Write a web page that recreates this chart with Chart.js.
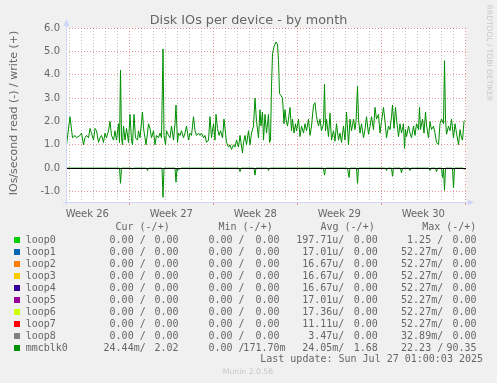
<!DOCTYPE html>
<html><head><meta charset="utf-8">
<script src="https://cdn.jsdelivr.net/npm/chart.js@4/dist/chart.umd.min.js"></script>
<style>html,body{margin:0;padding:0;background:#f0f0f0;overflow:hidden}canvas{display:block}</style>
</head><body>
<canvas id="c" width="497" height="383"></canvas>
<script>
// ---- data (x = hours since start of the 33-day window) ----
const writeHours = [
1,8,13,18,21,28,31,35,38,41, 45,48,51,55,58,61,65,68,71,75,
78,81,85,88,91,95,98,101,105,107, 109,111,113,115,118,121,125,128,131,133,
136,139,143,145,148,153,155,158,160,163, 165,168,171,175,178,181,185,188,191,194,
196,199,201,205,208,211,215,218,220,223, 225,228,231,235,238,241,245,248,251,255,
258,261,265,268,271,275,278,281,285,288, 291,295,298,300,303,306,309,313,316,319,
321,325,328,331,335,338,341,345,348,353, 355,358,361,365,368,371,375,378,381,385,
388,390,393,395,398,401,405,407,409,411, 413,416,420,423,425,427,430,433,436,438,
440,443,445,448,451,453,456,459,461,465, 468,471,475,478,481,485,488,491,495,498,
501,505,508,511,515,517,519,521,525,528, 531,535,538,541,545,548,551,555,558,561,
565,568,571,575,578,580,583,585,588,591, 595,598,601,605,608,611,615,618,621,625,
628,631,635,638,641,645,648,651,653,656, 659,661,665,668,671,675,677,679,681,685,
688,691,695,698,701,705,707,709,713,716, 719,721,725,728,731,735,738,741,745,748,
751,755,757,759,761,765,768,771,775,778, 781,785,788,791,793,796,798];
const writeValues = [
1.0,2.2,1.3,1.4,1.3,1.4,1.5,1.0,1.3,1.4, 1.3,1.7,1.5,1.2,1.7,1.6,1.1,1.3,1.4,1.1,
1.5,1.3,1.6,2.0,1.4,1.2,1.6,1.2,1.9,1.1, 4.2,1.3,1.0,1.8,1.2,1.7,1.1,2.3,1.2,1.0,
2.3,1.3,1.2,1.6,1.3,2.4,1.7,1.3,1.0,1.5, 1.9,1.7,1.3,1.6,1.0,1.4,1.3,1.5,1.3,5.1,
1.4,1.0,1.6,1.4,1.3,1.8,1.2,1.9,2.7,1.1, 1.5,1.4,1.6,1.3,1.5,1.8,1.2,1.5,1.4,2.2,
1.6,1.4,1.5,1.4,1.5,1.3,1.4,1.1,1.2,2.2, 1.3,1.9,1.2,2.3,1.7,1.4,1.6,1.3,2.1,1.5,
1.1,0.9,1.0,0.8,1.0,0.9,1.2,0.9,1.4,0.65, 1.1,1.4,1.0,1.6,1.0,1.5,1.8,3.0,2.0,1.3,
2.5,1.8,2.4,1.2,2.3,1.5,2.3,1.1,1.2,3.5, 4.9,5.2,5.4,5.3,4.6,3.2,3.1,3.0,1.9,2.5,
2.1,1.8,2.1,2.6,1.6,2.1,1.5,1.9,1.6,2.1, 1.35,1.8,1.5,1.9,1.6,2.1,1.4,1.8,2.7,2.8,
2.2,1.8,2.1,1.6,1.9,3.6,1.6,2.1,1.35,2.35, 1.2,1.6,1.15,1.9,1.2,1.5,1.1,1.8,1.2,2.4,
1.0,2.1,1.6,2.1,1.65,2.0,3.5,2.1,1.5,1.9, 1.3,1.65,2.2,1.45,1.8,2.2,1.65,2.6,2.1,2.3,
1.5,2.0,2.6,2.0,1.3,1.8,1.65,2.2,2.7,1.7, 2.6,2.1,1.35,1.9,1.5,1.9,0.85,1.65,1.35,1.8,
1.5,1.3,1.8,1.4,1.9,1.65,2.6,1.65,2.1,1.5, 2.4,1.85,1.3,2.0,1.65,1.8,1.5,1.1,1.0,1.9,
2.1,1.9,4.6,2.1,1.45,1.8,1.6,2.1,1.3,1.9, 1.5,1.0,1.65,1.3,1.2,2.0,2.05];
const readHours = [0,107,109,111,131,133,135,161,163,165,192,194,196,218,220,222,223,225,228,230,
346,348,350,376,378,380,403,405,407,515,517,519,563,566,568,581,583,585,639,641,643,651,653,655,
669,671,673,686,688,690,726,728,730,739,741,743,751,753,755,757,759,773,775,777,794,796,798];
const readValues = [0,0,-0.65,0,0,-0.05,0,0,-0.1,0,0,-1.25,0,0,-0.6,0,-0.12,0,-0.05,0,
0,-0.15,0,0,-0.3,0,0,-0.1,0,0,-0.3,0,0,-0.4,0,0,-0.65,0,0,-0.1,0,0,-0.35,0,
0,-0.2,0,0,-0.1,0,0,-0.1,0,0,-0.15,0,0,-0.4,0,-0.95,0,0,-0.85,0,0,-0.05,0];

const spanHours = 800;          // visible window
const firstSundayHour = 126.6;  // first week boundary inside window
const weekLabels = ['Week 26','Week 27','Week 28','Week 29','Week 30'];
const yTickValues = [-1,-0.5,0,0.5,1,1.5,2,2.5,3,3.5,4,4.5,5,5.5,6];

const legendNames = ['loop0','loop1','loop2','loop3','loop4','loop5','loop6','loop7','loop8','mmcblk0'];
const curRead  = ['0.00','0.00','0.00','0.00','0.00','0.00','0.00','0.00','0.00','24.44m'];
const curWrite = ['0.00','0.00','0.00','0.00','0.00','0.00','0.00','0.00','0.00','2.02'];
const minRead  = ['0.00','0.00','0.00','0.00','0.00','0.00','0.00','0.00','0.00','0.00'];
const minWrite = ['0.00','0.00','0.00','0.00','0.00','0.00','0.00','0.00','0.00','171.70m'];
const avgRead  = ['197.71u','17.01u','16.67u','16.67u','16.67u','17.01u','17.36u','11.11u','3.47u','24.05m'];
const avgWrite = ['0.00','0.00','0.00','0.00','0.00','0.00','0.00','0.00','0.00','1.68'];
const maxRead  = ['1.25','52.27m','52.27m','52.27m','52.27m','52.27m','52.27m','52.27m','32.89m','22.23'];
const maxWrite = ['0.00','0.00','0.00','0.00','0.00','0.00','0.00','0.00','0.00','90.35'];
const lastUpdate = 'Last update: Sun Jul 27 01:00:03 2025';

// ---- styles ----
const legendColors = ['#00CC00','#0066B3','#FF8000','#FFCC00','#330099','#990099','#CCFF00','#FF0000','#808080','#008F00'];
const LINE = '#008F00';
const FONT = '#666666';
const GRID = 'rgba(140,140,140,0.55)';
const MGRID = 'rgba(222,80,80,0.6)';
const AXIS = '#CFD6F8';

// x ticks: day lines, week lines, and week-label positions
function buildXTicks(){
  const t = [];
  let h = firstSundayHour % 24;
  for (; h <= spanHours + 0.01; h += 24) {
    const k = Math.round((h - firstSundayHour) / 24);
    t.push({value: h, kind: (k % 7 === 0) ? 'week' : 'day'});
  }
  weekLabels.forEach((lab, i) => {
    t.push({value: firstSundayHour - 84 + 168 * i, kind: 'label', text: lab});
  });
  t.sort((a,b)=>a.value-b.value);
  return t;
}

const munin = {
  id: 'munin',
  beforeDraw(chart){
    const {ctx, chartArea:a} = chart;
    ctx.save();
    ctx.fillStyle = '#F0F0F0'; ctx.fillRect(0,0,chart.width,chart.height);
    ctx.fillStyle = '#FFFFFF'; ctx.fillRect(a.left, a.top, a.right-a.left, a.bottom-a.top);
    ctx.restore();
  },
  afterDatasetsDraw(chart){
    const {ctx, chartArea:a, scales} = chart;
    const y0 = Math.round(scales.y.getPixelForValue(0)) + 0.5;
    ctx.save();
    ctx.strokeStyle = '#000'; ctx.lineWidth = 1;
    ctx.beginPath(); ctx.moveTo(a.left, y0); ctx.lineTo(a.right, y0); ctx.stroke();
    ctx.restore();
  },
  afterDraw(chart){
    const {ctx, chartArea:a} = chart;
    ctx.save();
    // axes + arrows
    ctx.strokeStyle = AXIS; ctx.fillStyle = AXIS; ctx.lineWidth = 1;
    const lx = a.left + 0.5, by = a.bottom + 0.5;
    ctx.beginPath(); ctx.moveTo(lx, a.bottom + 3); ctx.lineTo(lx, a.top - 4); ctx.stroke();
    ctx.beginPath(); ctx.moveTo(a.left - 3, by); ctx.lineTo(a.right + 4, by); ctx.stroke();
    ctx.beginPath(); ctx.moveTo(lx, a.top - 9); ctx.lineTo(lx - 3, a.top - 2); ctx.lineTo(lx + 3, a.top - 2); ctx.closePath(); ctx.fill();
    ctx.beginPath(); ctx.moveTo(a.right + 8, by); ctx.lineTo(a.right + 2, by - 3); ctx.lineTo(a.right + 2, by + 3); ctx.closePath(); ctx.fill();

    // title
    ctx.fillStyle = FONT;
    ctx.textBaseline = 'alphabetic';
    ctx.textAlign = 'center';
    ctx.font = '12.8px "DejaVu Sans"';
    ctx.fillText('Disk IOs per device - by month', 248.5, 24);

    // y axis title
    ctx.save();
    ctx.translate(14, 113);
    ctx.rotate(-Math.PI/2);
    ctx.font = '11px "DejaVu Sans"';
    ctx.textBaseline = 'middle';
    ctx.fillText('IOs/second read (-) / write (+)', 0, 0);
    ctx.restore();

    // watermark
    ctx.save();
    ctx.translate(489, 53);
    ctx.rotate(Math.PI/2);
    ctx.font = '7.5px "DejaVu Sans"';
    ctx.fillStyle = '#C8C8C8';
    ctx.textBaseline = 'middle';
    ctx.fillText('RRDTOOL / TOBI OETIKER', 0, 0);
    ctx.restore();

    // legend
    ctx.font = '10px "DejaVu Sans Mono"';
    ctx.textBaseline = 'middle';
    ctx.fillStyle = FONT;
    ctx.textAlign = 'left';
    ctx.fillText('Cur (-/+)', 115.5, 227.5);
    ctx.fillText('Min (-/+)', 218.5, 227.5);
    ctx.fillText('Avg (-/+)', 320.5, 227.5);
    ctx.fillText('Max (-/+)', 422.2, 227.5);
    const p1 = v => v + (/[a-zA-Z]$/.test(v) ? '' : ' ') + '/';
    const p2 = v => v + (/[a-zA-Z]$/.test(v) ? '' : ' ');
    legendNames.forEach((name, i) => {
      const cy = 240 + 12 * i;
      ctx.fillStyle = legendColors[i];
      ctx.fillRect(14, cy - 3, 6, 6);
      ctx.fillStyle = FONT;
      ctx.textAlign = 'left';
      ctx.fillText(name, 25.7, cy);
      ctx.textAlign = 'right';
      ctx.fillText(p1(curRead[i]), 145.7, cy);
      ctx.fillText(p2(curWrite[i]), 184.5, cy);
      ctx.fillText(p1(minRead[i]), 244.5, cy);
      ctx.fillText(p2(minWrite[i]), 285.5, cy);
      ctx.fillText(p1(avgRead[i]), 344.3, cy);
      ctx.fillText(p2(avgWrite[i]), 383.8, cy);
      ctx.fillText(p1(maxRead[i]), 443.2, cy);
      ctx.fillText(p2(maxWrite[i]), 482.6, cy);
    });
    ctx.textAlign = 'right';
    ctx.fillText(lastUpdate, 483, 359);

    ctx.textAlign = 'center';
    ctx.font = '7.7px "DejaVu Sans"';
    ctx.fillStyle = '#C8C8C8';
    ctx.fillText('Munin 2.0.56', 248, 372);
    ctx.restore();
  }
};

new Chart(document.getElementById('c'), {
  type: 'line',
  data: {
    datasets: [
      { label: 'write', data: writeHours.map((h,i)=>({x:h, y:writeValues[i]})),
        borderColor: LINE, borderWidth: 1, pointRadius: 0, tension: 0, fill: false },
      { label: 'read', data: readHours.map((h,i)=>({x:h, y:readValues[i]})),
        borderColor: LINE, borderWidth: 1, pointRadius: 0, tension: 0, fill: false }
    ]
  },
  options: {
    responsive: false, devicePixelRatio: 1, animation: false,
    layout: { padding: { left: 0, right: 31, top: 28, bottom: 159 } },
    plugins: { legend: { display: false }, tooltip: { enabled: false }, title: { display: false } },
    scales: {
      x: {
        type: 'linear', min: 0, max: spanHours,
        afterBuildTicks: s => { s.ticks = buildXTicks(); },
        afterFit: s => { s.height = 22; },
        border: { display: false, dash: [1,2] },
        grid: {
          drawTicks: true, tickLength: 3,
          color: c => c.tick && c.tick.kind === 'week' ? MGRID : (c.tick && c.tick.kind === 'day' ? GRID : 'rgba(0,0,0,0)'),
          tickColor: c => c.tick && c.tick.kind === 'week' ? MGRID : 'rgba(0,0,0,0)',
          tickBorderDash: []
        },
        ticks: {
          autoSkip: false, maxRotation: 0, minRotation: 0, padding: 3,
          color: FONT, font: { family: 'DejaVu Sans', size: 10 },
          callback: (v, i, ticks) => ticks[i].kind === 'label' ? ticks[i].text : ''
        }
      },
      y: {
        type: 'linear', min: -1.45, max: 6,
        afterBuildTicks: s => { s.ticks = yTickValues.map(v => ({value: v})); },
        afterFit: s => { s.width = 66; },
        border: { display: false, dash: [1,2] },
        grid: {
          drawTicks: false,
          color: c => Number.isInteger(c.tick.value) ? MGRID : GRID
        },
        ticks: {
          padding: 6, color: FONT, font: { family: 'DejaVu Sans', size: 10 },
          callback: v => Number.isInteger(v) ? v.toFixed(1) : ''
        }
      }
    }
  },
  plugins: [munin]
});
</script>
</body></html>
